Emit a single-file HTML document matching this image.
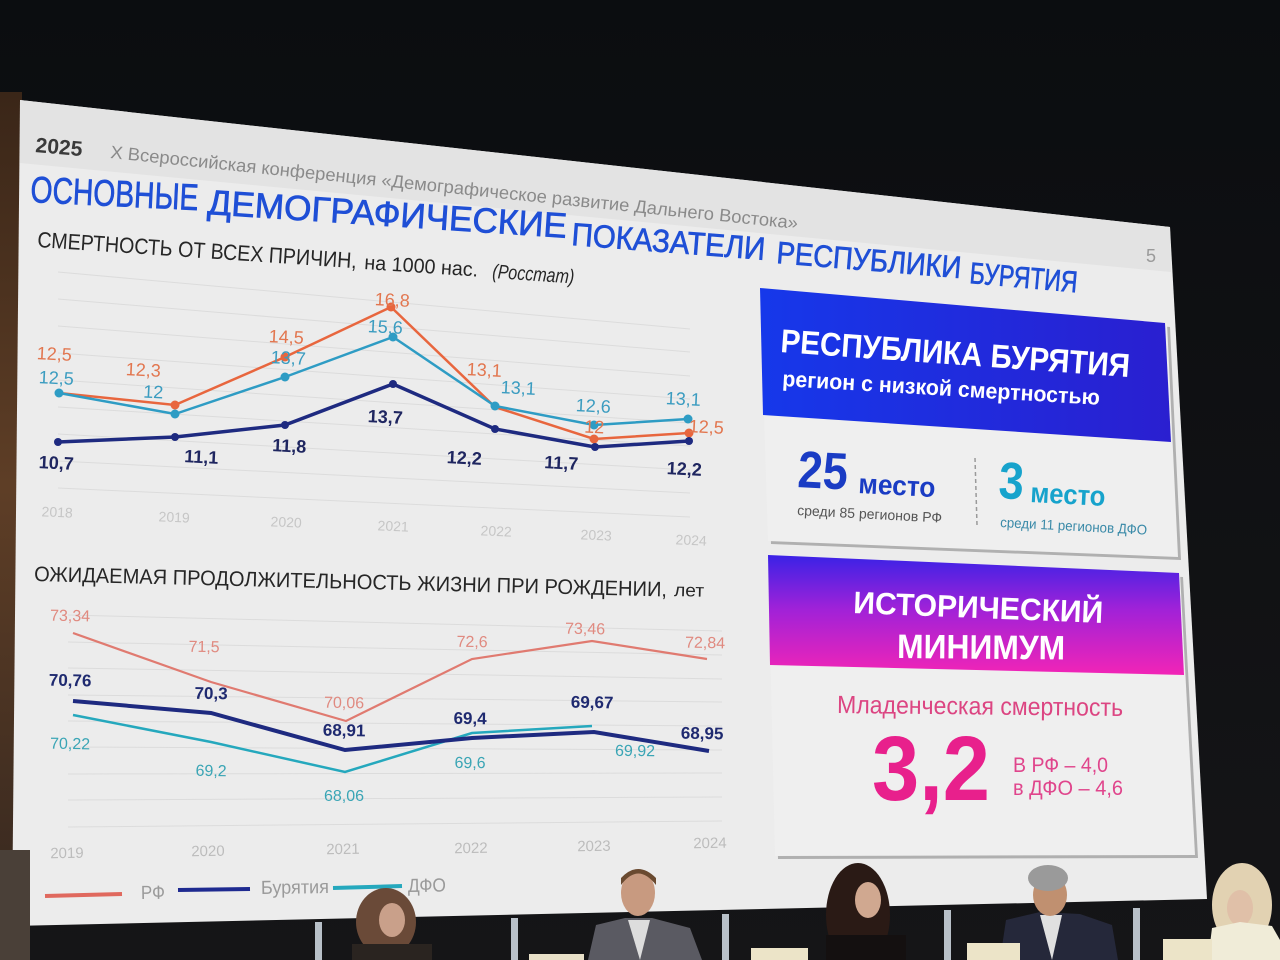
<!DOCTYPE html>
<html><head><meta charset="utf-8">
<style>
html,body{margin:0;padding:0;background:#0e0f12;}
svg{display:block;}
text{font-family:"Liberation Sans",sans-serif;}
</style></head><body>
<svg width="1280" height="960" viewBox="0 0 1280 960" xmlns="http://www.w3.org/2000/svg">
<defs>
 <linearGradient id="bg" x1="0" y1="0" x2="0" y2="1">
  <stop offset="0" stop-color="#0b0d10"/><stop offset="1" stop-color="#151517"/>
 </linearGradient>
 <linearGradient id="brown" x1="0" y1="0" x2="0" y2="1">
  <stop offset="0" stop-color="#3a2618"/><stop offset="0.5" stop-color="#5e3e26"/><stop offset="1" stop-color="#3a2a20"/>
 </linearGradient>
 <linearGradient id="blue" x1="0" y1="0" x2="1" y2="0">
  <stop offset="0" stop-color="#1638ea"/><stop offset="1" stop-color="#2a1fd0"/>
 </linearGradient>
 <linearGradient id="mag" x1="0" y1="0" x2="0" y2="1">
  <stop offset="0" stop-color="#3a22e6"/><stop offset="0.45" stop-color="#a022d8"/><stop offset="1" stop-color="#f224b6"/>
 </linearGradient>
</defs>

<!-- background -->
<rect width="1280" height="960" fill="url(#bg)"/>
<rect x="0" y="92" width="22" height="790" fill="url(#brown)"/>

<!-- slide -->
<polygon points="20,100 1170,227 1207,899 12,926" fill="#ececec"/>
<polygon points="20,100 1170,227 1171,272 20,163" fill="#e3e3e3"/>

<!-- header -->
<text transform="translate(35,152) rotate(5)" font-size="21" font-weight="bold" fill="#3a3a3a" textLength="47" lengthAdjust="spacingAndGlyphs">2025</text>
<text transform="translate(110,158) rotate(5.9)" font-size="18" fill="#8a8a8a" textLength="691" lengthAdjust="spacingAndGlyphs">X Всероссийская конференция «Демографическое развитие Дальнего Востока»</text>
<text transform="translate(1146,262)" font-size="18" fill="#9a9a9a">5</text>

<!-- main title -->
<g fill="#1f4fd6" stroke="#1f4fd6" stroke-width="0.7">
<text transform="translate(30,202) rotate(2.8)" font-size="37" textLength="168" lengthAdjust="spacingAndGlyphs">ОСНОВНЫЕ</text>
<text transform="translate(207,214) rotate(3.8)" font-size="35" textLength="360" lengthAdjust="spacingAndGlyphs">ДЕМОГРАФИЧЕСКИЕ</text>
<text transform="translate(571,245) rotate(4.4)" font-size="32" textLength="194" lengthAdjust="spacingAndGlyphs">ПОКАЗАТЕЛИ</text>
<text transform="translate(776,263) rotate(4.7)" font-size="31" textLength="185" lengthAdjust="spacingAndGlyphs">РЕСПУБЛИКИ</text>
<text transform="translate(969,283) rotate(5.0)" font-size="30" textLength="108" lengthAdjust="spacingAndGlyphs">БУРЯТИЯ</text>
</g>

<!-- top chart title -->
<g fill="#262626">
<text transform="translate(37,247) rotate(3.8)" font-size="22" textLength="320" lengthAdjust="spacingAndGlyphs">СМЕРТНОСТЬ ОТ ВСЕХ ПРИЧИН,</text>
<text transform="translate(364,269) rotate(3.8)" font-size="20" textLength="114" lengthAdjust="spacingAndGlyphs">на 1000 нас.</text>
<text transform="translate(492,278) rotate(3.8)" font-size="20" font-style="italic" textLength="82" lengthAdjust="spacingAndGlyphs">(Росстат)</text>
</g>

<!-- top chart grid -->
<g stroke="#dcdcdc" stroke-width="1">
<line x1="58" y1="272" x2="690" y2="329"/>
<line x1="58" y1="299" x2="690" y2="352"/>
<line x1="58" y1="326" x2="690" y2="376"/>
<line x1="58" y1="353" x2="690" y2="399"/>
<line x1="58" y1="380" x2="690" y2="423"/>
<line x1="58" y1="407" x2="690" y2="446"/>
<line x1="58" y1="434" x2="690" y2="470"/>
<line x1="58" y1="461" x2="690" y2="493"/>
<line x1="58" y1="488" x2="690" y2="517"/>
</g>

<!-- top chart series -->
<polyline points="59,393 175,405 285,357 391,307 495,407 594,439 689,433" fill="none" stroke="#e8663e" stroke-width="2.5"/>
<polyline points="59,393 175,414 285,377 393,337 495,406 594,425 688,419" fill="none" stroke="#2e9cc4" stroke-width="2.5"/>
<polyline points="58,442 175,437 285,425 393,384 495,429 595,447 689,441" fill="none" stroke="#1e2a80" stroke-width="3.5"/>
<g fill="#e8663e">
<circle cx="175" cy="405" r="4.5"/><circle cx="285" cy="357" r="4.5"/><circle cx="391" cy="307" r="4.5"/><circle cx="594" cy="439" r="4.5"/><circle cx="689" cy="433" r="4.5"/>
</g>
<g fill="#2e9cc4">
<circle cx="59" cy="393" r="4.5"/><circle cx="175" cy="414" r="4.5"/><circle cx="285" cy="377" r="4.5"/><circle cx="393" cy="337" r="4.5"/><circle cx="495" cy="406" r="4.5"/><circle cx="594" cy="425" r="4.5"/><circle cx="688" cy="419" r="4.5"/>
</g>
<g fill="#1e2a80">
<circle cx="58" cy="442" r="4"/><circle cx="175" cy="437" r="4"/><circle cx="285" cy="425" r="4"/><circle cx="393" cy="384" r="4"/><circle cx="495" cy="429" r="4"/><circle cx="595" cy="447" r="4"/><circle cx="689" cy="441" r="4"/>
</g>

<!-- top chart labels -->
<g font-size="18" text-anchor="middle" fill="#e2764f">
<text transform="translate(54,360) rotate(2.8)">12,5</text>
<text transform="translate(143,376) rotate(2.8)">12,3</text>
<text transform="translate(286,343) rotate(2.8)">14,5</text>
<text transform="translate(392,306) rotate(2.8)">16,8</text>
<text transform="translate(484,376) rotate(2.8)">13,1</text>
<text transform="translate(594,433) rotate(2.8)">12</text>
<text transform="translate(706,433) rotate(2.8)">12,5</text>
</g>
<g font-size="18" text-anchor="middle" fill="#3b9cc0">
<text transform="translate(56,384) rotate(2.8)">12,5</text>
<text transform="translate(153,398) rotate(2.8)">12</text>
<text transform="translate(288,364) rotate(2.8)">13,7</text>
<text transform="translate(385,333) rotate(2.8)">15,6</text>
<text transform="translate(518,394) rotate(2.8)">13,1</text>
<text transform="translate(593,412) rotate(2.8)">12,6</text>
<text transform="translate(683,405) rotate(2.8)">13,1</text>
</g>
<g font-size="18" font-weight="bold" text-anchor="middle" fill="#1f2660">
<text transform="translate(56,469) rotate(2.8)">10,7</text>
<text transform="translate(201,463) rotate(2.8)">11,1</text>
<text transform="translate(289,452) rotate(2.8)">11,8</text>
<text transform="translate(385,423) rotate(2.8)">13,7</text>
<text transform="translate(464,464) rotate(2.8)">12,2</text>
<text transform="translate(561,469) rotate(2.8)">11,7</text>
<text transform="translate(684,475) rotate(2.8)">12,2</text>
</g>
<g font-size="14" text-anchor="middle" fill="#c6c6c6">
<text transform="translate(57,517) rotate(2.5)">2018</text>
<text transform="translate(174,522) rotate(2.5)">2019</text>
<text transform="translate(286,527) rotate(2.5)">2020</text>
<text transform="translate(393,531) rotate(2.5)">2021</text>
<text transform="translate(496,536) rotate(2.5)">2022</text>
<text transform="translate(596,540) rotate(2.5)">2023</text>
<text transform="translate(691,545) rotate(2.5)">2024</text>
</g>

<!-- bottom chart title -->
<text transform="translate(34,581) rotate(1.4)" font-size="21" fill="#262626" textLength="633" lengthAdjust="spacingAndGlyphs">ОЖИДАЕМАЯ ПРОДОЛЖИТЕЛЬНОСТЬ ЖИЗНИ  ПРИ РОЖДЕНИИ,</text>
<text transform="translate(674,596) rotate(1.4)" font-size="18" fill="#262626" textLength="30" lengthAdjust="spacingAndGlyphs">лет</text>

<!-- bottom grid -->
<g stroke="#dcdcdc" stroke-width="1">
<line x1="68" y1="615" x2="722" y2="631"/>
<line x1="68" y1="642" x2="722" y2="655"/>
<line x1="68" y1="668" x2="722" y2="679"/>
<line x1="68" y1="695" x2="722" y2="702"/>
<line x1="68" y1="721" x2="722" y2="726"/>
<line x1="68" y1="747" x2="722" y2="750"/>
<line x1="68" y1="774" x2="722" y2="773"/>
<line x1="68" y1="800" x2="722" y2="797"/>
<line x1="68" y1="827" x2="722" y2="821"/>
</g>

<!-- bottom series -->
<polyline points="73,633 211,682 346,721 472,659 592,641 707,659" fill="none" stroke="#e07a70" stroke-width="2.2"/>
<polyline points="73,715 211,742 345,772 472,733 592,726" fill="none" stroke="#25a8bd" stroke-width="2.5"/>
<polyline points="73,701 211,713 345,750 472,738 594,732 709,751" fill="none" stroke="#1e2a80" stroke-width="4"/>

<g font-size="16" text-anchor="middle" fill="#e08a80">
<text transform="translate(70,621) rotate(1)">73,34</text>
<text transform="translate(204,652) rotate(1)">71,5</text>
<text transform="translate(344,708) rotate(1)">70,06</text>
<text transform="translate(472,647) rotate(1)">72,6</text>
<text transform="translate(585,634) rotate(1)">73,46</text>
<text transform="translate(705,648) rotate(1)">72,84</text>
</g>
<g font-size="17" font-weight="bold" text-anchor="middle" fill="#1f2a70">
<text transform="translate(70,686) rotate(1)">70,76</text>
<text transform="translate(211,699) rotate(1)">70,3</text>
<text transform="translate(344,736) rotate(1)">68,91</text>
<text transform="translate(470,724) rotate(1)">69,4</text>
<text transform="translate(592,708) rotate(1)">69,67</text>
<text transform="translate(702,739) rotate(1)">68,95</text>
</g>
<g font-size="16" text-anchor="middle" fill="#3aa5b5">
<text transform="translate(70,749) rotate(1)">70,22</text>
<text transform="translate(211,776) rotate(1)">69,2</text>
<text transform="translate(344,801) rotate(0)">68,06</text>
<text transform="translate(470,768) rotate(0.5)">69,6</text>
<text transform="translate(635,756) rotate(0.5)">69,92</text>
</g>
<g font-size="15" text-anchor="middle" fill="#bcbcbc">
<text transform="translate(67,858) rotate(-0.9)">2019</text>
<text transform="translate(208,856) rotate(-0.9)">2020</text>
<text transform="translate(343,854) rotate(-0.9)">2021</text>
<text transform="translate(471,853) rotate(-0.9)">2022</text>
<text transform="translate(594,851) rotate(-0.9)">2023</text>
<text transform="translate(710,848) rotate(-0.9)">2024</text>
</g>

<!-- legend -->
<line x1="45" y1="896" x2="122" y2="894" stroke="#e0695e" stroke-width="4"/>
<line x1="178" y1="890" x2="250" y2="889" stroke="#1e2a90" stroke-width="4"/>
<line x1="333" y1="888" x2="402" y2="886" stroke="#25a8bd" stroke-width="4"/>
<g font-size="19" fill="#9a9a9a">
<text transform="translate(141,899) rotate(-0.8)" textLength="24" lengthAdjust="spacingAndGlyphs">РФ</text>
<text transform="translate(261,894) rotate(-0.8)" textLength="68" lengthAdjust="spacingAndGlyphs">Бурятия</text>
<text transform="translate(408,892) rotate(-0.8)" textLength="38" lengthAdjust="spacingAndGlyphs">ДФО</text>
</g>

<!-- upper card -->
<polygon points="763,292 1170,327 1181,560 771,544" fill="#b0b0b0"/>
<polygon points="760,288 1167,323 1178,557 768,541" fill="#efefef"/>
<polygon points="760,288 1165,323 1171,442 763,415" fill="url(#blue)"/>
<text transform="translate(780,352) rotate(4.1)" font-size="33" font-weight="bold" fill="#ffffff" textLength="350" lengthAdjust="spacingAndGlyphs">РЕСПУБЛИКА БУРЯТИЯ</text>
<text transform="translate(782,386) rotate(3.4)" font-size="22" font-weight="bold" fill="#ffffff" textLength="318" lengthAdjust="spacingAndGlyphs">регион с низкой смертностью</text>

<text transform="translate(797,487) rotate(3)" font-size="52" font-weight="bold" fill="#1a3cc4" textLength="50" lengthAdjust="spacingAndGlyphs">25</text>
<text transform="translate(858,493) rotate(3)" font-size="28" font-weight="bold" fill="#1a3cc4" textLength="77" lengthAdjust="spacingAndGlyphs">место</text>
<text transform="translate(797,515) rotate(3)" font-size="14" fill="#555555" textLength="145" lengthAdjust="spacingAndGlyphs">среди 85 регионов РФ</text>
<line x1="975" y1="458" x2="977" y2="525" stroke="#9a9a9a" stroke-width="1.5" stroke-dasharray="4,3"/>
<text transform="translate(998,498) rotate(3)" font-size="52" font-weight="bold" fill="#17a3cc" textLength="25" lengthAdjust="spacingAndGlyphs">3</text>
<text transform="translate(1030,502) rotate(3)" font-size="28" font-weight="bold" fill="#17a3cc" textLength="75" lengthAdjust="spacingAndGlyphs">место</text>
<text transform="translate(1000,527) rotate(3)" font-size="14" fill="#3a8aa8" textLength="147" lengthAdjust="spacingAndGlyphs">среди 11 регионов ДФО</text>

<!-- lower card -->
<polygon points="771,559 1183,577 1198,858 778,859" fill="#b0b0b0"/>
<polygon points="768,555 1180,573 1195,855 775,856" fill="#efefef"/>
<polygon points="768,555 1179,573 1184,675 770,665" fill="url(#mag)"/>
<text transform="translate(853,613) rotate(2.3)" font-size="31" font-weight="bold" fill="#ffffff" textLength="250" lengthAdjust="spacingAndGlyphs">ИСТОРИЧЕСКИЙ</text>
<text transform="translate(897,658) rotate(0.5)" font-size="34" font-weight="bold" fill="#ffffff" textLength="168" lengthAdjust="spacingAndGlyphs">МИНИМУМ</text>
<text transform="translate(837,713) rotate(0.6)" font-size="25" fill="#dc4582" textLength="286" lengthAdjust="spacingAndGlyphs">Младенческая смертность</text>
<text transform="translate(872,800)" font-size="92" font-weight="bold" fill="#e8208c" textLength="118" lengthAdjust="spacingAndGlyphs">3,2</text>
<text transform="translate(1013,772)" font-size="21" fill="#e0458c" textLength="95" lengthAdjust="spacingAndGlyphs">В РФ – 4,0</text>
<text transform="translate(1013,795)" font-size="21" fill="#e0458c" textLength="110" lengthAdjust="spacingAndGlyphs">в ДФО – 4,6</text>

<!-- stage & people -->
<rect x="0" y="850" width="30" height="110" fill="#4a4038"/>
<g>
 <rect x="315" y="922" width="7" height="38" fill="#b8c0c8"/>
 <rect x="511" y="918" width="7" height="42" fill="#b8c0c8"/>
 <rect x="722" y="914" width="7" height="46" fill="#b8c0c8"/>
 <rect x="944" y="910" width="7" height="50" fill="#b8c0c8"/>
 <rect x="1133" y="908" width="7" height="52" fill="#b8c0c8"/>
 <ellipse cx="386" cy="922" rx="30" ry="34" fill="#6a4a38"/>
 <ellipse cx="392" cy="920" rx="13" ry="17" fill="#c9a08a"/>
 <rect x="352" y="944" width="80" height="16" fill="#2a2420"/>
 <polygon points="588,960 596,925 625,918 652,918 690,928 702,960" fill="#5a5a62"/>
 <polygon points="628,920 650,920 640,960" fill="#dddddd"/>
 <ellipse cx="638" cy="893" rx="17" ry="23" fill="#c89a80"/>
 <path d="M621,885 Q638,862 656,885 L656,878 Q638,860 621,878 Z" fill="#6a4a30"/>
 <ellipse cx="858" cy="915" rx="32" ry="52" fill="#2a1a15"/>
 <ellipse cx="868" cy="900" rx="13" ry="18" fill="#d0a890"/>
 <rect x="826" y="935" width="80" height="25" fill="#141010"/>
 <polygon points="1000,960 1006,920 1040,912 1080,914 1112,925 1118,960" fill="#25283a"/>
 <polygon points="1040,915 1062,915 1052,960" fill="#e0e0e0"/>
 <ellipse cx="1050" cy="895" rx="17" ry="21" fill="#c09070"/>
 <ellipse cx="1048" cy="878" rx="20" ry="13" fill="#9a9a9a"/>
 <ellipse cx="1242" cy="905" rx="30" ry="42" fill="#e2d2b2"/>
 <ellipse cx="1240" cy="908" rx="13" ry="18" fill="#e0c0a8"/>
 <polygon points="1208,960 1212,928 1240,922 1272,926 1280,940 1280,960" fill="#f0ecd8"/>
 <rect x="529" y="954" width="55" height="6" fill="#e8e0c8"/>
 <rect x="751" y="948" width="57" height="12" fill="#ece4c8"/>
 <rect x="967" y="943" width="53" height="17" fill="#ece4c8"/>
 <rect x="1163" y="939" width="49" height="21" fill="#ece4c8"/>
</g>
</svg>
</body></html>
